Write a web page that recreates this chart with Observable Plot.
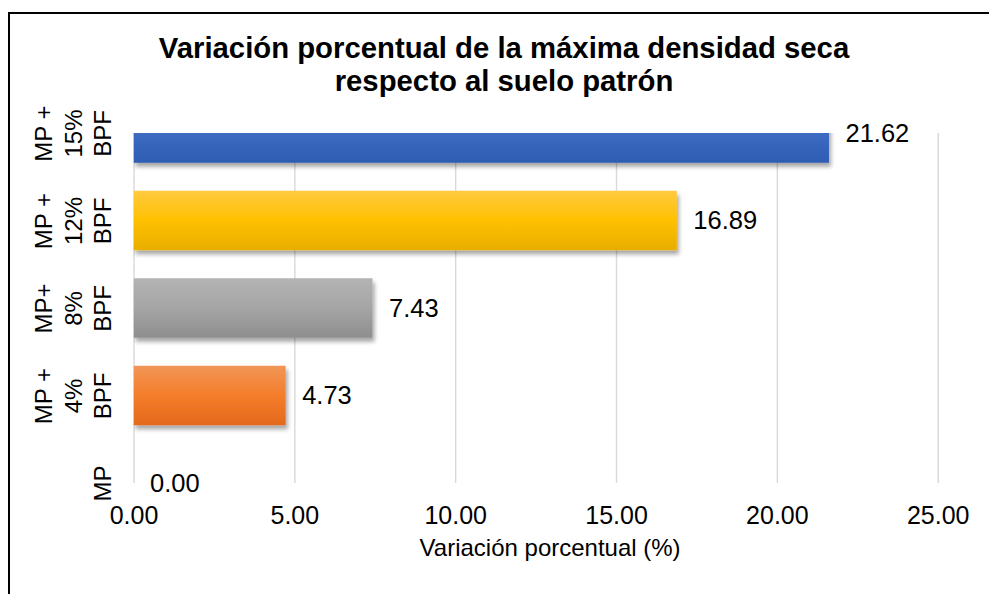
<!DOCTYPE html>
<html>
<head>
<meta charset="utf-8">
<script src="https://cdn.jsdelivr.net/npm/d3@7"></script>
<script src="https://cdn.jsdelivr.net/npm/@observablehq/plot@0.6"></script>
<style>
  html, body { margin: 0; padding: 0; background: #fff; overflow: hidden; }
  #wrap { position: relative; width: 989px; height: 594px; overflow: hidden; background: #fff;
          font-family: "Liberation Sans", Arial, sans-serif; color: #000; }
  #border { position: absolute; left: 8px; top: 12px; width: 1200px; height: 800px;
            border-left: 2px solid #000; border-top: 2px solid #000; box-sizing: border-box; pointer-events: none; }
  #title { position: relative; height: 100px; }
  #title div { position: absolute; left: 19px; width: 970px; top: 30.6px; text-align: center;
               font-weight: bold; font-size: 29.3px; line-height: 33.4px; }
  #chart { position: relative; height: 494px; }
  #chart svg { display: block; }
</style>
</head>
<body>
<div id="wrap">
  <div id="border"></div>
  <div id="title"><div>Variación porcentual de la máxima densidad seca<br>respecto al suelo patrón</div></div>
  <div id="chart"></div>
</div>
<script>
// ---- data ----
const categories = ["MP +\n15%\nBPF", "MP +\n12%\nBPF", "MP+\n8%\nBPF", "MP +\n4%\nBPF", "MP"];
const values = [21.62, 16.89, 7.43, 4.73, 0.00];
const xTicks = [0, 5, 10, 15, 20, 25];
const xLabel = "Variación porcentual (%)";
// gradient stops per bar: [top, middle, bottom]
const barGradients = [
  ["#4a78cc", "#3d6bc2", "#2e5cb4"],
  ["#ffca40", "#ffc000", "#e8ae00"],
  ["#b4b4b4", "#a5a5a5", "#8e8e8e"],
  ["#f29658", "#f47d2a", "#e4691c"],
  ["#4a78cc", "#3d6bc2", "#2e5cb4"]
];

const rows = categories.map((c, i) => ({cat: c, value: values[i], fill: `url(#grad${i})`}));

const W = 989, H = 494;
const frameTop = 33, frameBottom = 383;
const n = categories.length;
const step = (frameBottom - frameTop) / (n - 1);

const chart = Plot.plot({
  width: W,
  height: H,
  marginLeft: 133.5,
  marginRight: 51.3,
  marginTop: frameTop,
  marginBottom: H - frameBottom,
  style: {fontFamily: "'Liberation Sans', Arial, sans-serif", color: "#000", background: "transparent"},
  x: {domain: [0, 25]},
  y: {type: "band", domain: categories, range: [frameTop - step / 2, frameBottom + step / 2],
      paddingInner: 0.32, paddingOuter: 0.16, align: 0.5, round: false, axis: null},
  color: {type: "identity"},
  marks: [
    Plot.gridX(xTicks, {stroke: "#d9d9d9", strokeOpacity: 1, strokeWidth: 1.4}),
    Plot.barX(rows, {x: "value", y: "cat", fill: "fill", clip: true}),
    Plot.text(rows, {x: "value", y: "cat", text: d => d.value.toFixed(2), textAnchor: "start",
                     dx: 16, fontSize: 25.5, fill: "#000"}),
    Plot.axisX(xTicks, {tickSize: 0, tickPadding: 23, fontSize: 25, tickFormat: d => d.toFixed(2), label: null}),
    Plot.text(categories, {y: d => d, frameAnchor: "left", text: d => d, rotate: -90, textAnchor: "middle",
                           lineAnchor: "bottom", lineHeight: 1.22, dx: -23, fontSize: 24, fill: "#000"}),
    Plot.text([xLabel], {frameAnchor: "bottom", lineAnchor: "bottom", text: d => d, dy: 72, dx: 14,
                         fontSize: 24, fill: "#000"})
  ]
});

// gradients and shadow
const svg = d3.select(chart);
const defs = svg.insert("defs", ":first-child");
barGradients.forEach((g, i) => {
  const lg = defs.append("linearGradient").attr("id", `grad${i}`)
    .attr("x1", 0).attr("y1", 0).attr("x2", 0).attr("y2", 1);
  lg.append("stop").attr("offset", "0%").attr("stop-color", g[0]);
  lg.append("stop").attr("offset", "50%").attr("stop-color", g[1]);
  lg.append("stop").attr("offset", "100%").attr("stop-color", g[2]);
});
const f = defs.append("filter").attr("id", "barShadow").attr("x", "-10%").attr("y", "-20%")
  .attr("width", "130%").attr("height", "160%");
f.append("feDropShadow").attr("dx", 2).attr("dy", 4).attr("stdDeviation", 2.2)
  .attr("flood-color", "#000").attr("flood-opacity", 0.35);
svg.selectAll('g[aria-label="bar"] rect').attr("filter", "url(#barShadow)");

document.getElementById("chart").appendChild(chart);
</script>
</body>
</html>
